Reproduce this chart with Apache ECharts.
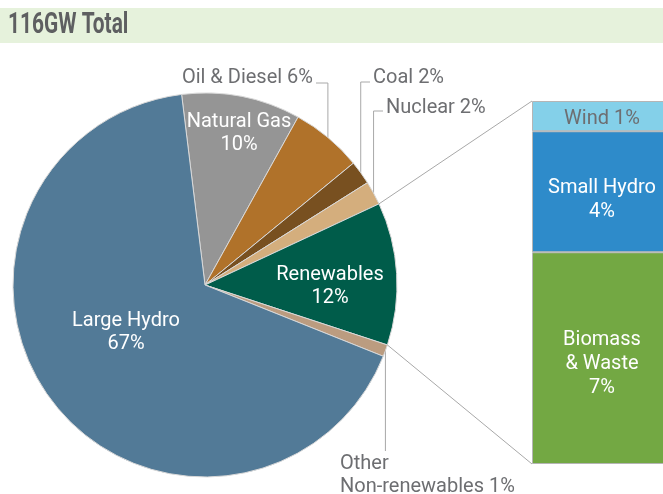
<!DOCTYPE html>
<html>
<head>
<meta charset="utf-8">
<title>116GW Total</title>
<script src="https://cdn.jsdelivr.net/npm/echarts@6.0.0/dist/echarts.min.js"></script>
<style>
html, body { margin: 0; padding: 0; background: #fff; }
#chart { width: 663px; height: 494px; }
</style>
</head>
<body>
<div id="chart"></div>
<script>
// pie slices, clockwise starting just left of 12 o'clock
var pieNames = ['Natural Gas', 'Oil & Diesel', 'Coal', 'Nuclear', 'Renewables', 'Other\nNon-renewables', 'Large Hydro'];
var pieValues = [10, 6, 2, 2, 12, 1, 67];
var pieColors = ['#959595', '#b0722a', '#785020', '#d4ae7d', '#005c4a', '#bb9c80', '#527a97'];
var insideNames = ['Natural Gas', 'Renewables', 'Large Hydro'];

// renewables breakdown, bottom to top of the bar
var renewNames = ['Biomass\n& Waste', 'Small Hydro', 'Wind'];
var renewValues = [7, 4, 1];
var renewColors = ['#73a843', '#2e8bca', '#84d0e9'];
var renewLabelColors = ['#fff', '#fff', '#6d6e71'];
var renewLabelShift = [6, 8, 3];
var renewMax = 12;

var textFont = 'Roboto';
var grayText = '#6d6e71';
var lineGray = '#a8a8a8';

// where each pie label sits (lineY = height of the elbow of its guide line)
var labelPos = {
    'Natural Gas': {x: 239, y: 133},
    'Renewables': {x: 330, y: 286},
    'Large Hydro': {x: 126, y: 332},
    'Oil & Diesel': {x: 313, y: 78, align: 'right', lineY: 83},
    'Coal': {x: 373, y: 78, align: 'left', lineY: 82},
    'Nuclear': {x: 386, y: 108, align: 'left', lineY: 111},
    'Other\nNon-renewables': {x: 340, y: 475, align: 'left', lineY: 451, noTail: true}
};

var myChart = echarts.init(document.getElementById('chart'));

function sliceLayout(i) {
    return myChart.getModel().getSeriesByIndex(0).getData().getItemLayout(i);
}

var pieData = pieNames.map(function (n, i) {
    var inside = insideNames.indexOf(n) >= 0;
    return {
        name: n,
        value: pieValues[i],
        itemStyle: {color: pieColors[i]},
        label: {position: inside ? 'inside' : 'outside', color: inside ? '#fff' : grayText},
        labelLine: {show: !inside}
    };
});

var barSeries = renewNames.map(function (n, i) {
    return {
        name: n,
        type: 'bar',
        stack: 'ren',
        barWidth: '100%',
        data: [renewValues[i]],
        itemStyle: {color: renewColors[i], borderColor: '#b5b5b5', borderWidth: 1},
        label: {
            show: true,
            position: 'inside',
            offset: [0, renewLabelShift[i]],
            color: renewLabelColors[i],
            fontFamily: textFont,
            fontSize: 20,
            lineHeight: 24,
            textBorderWidth: 0,
            formatter: n === 'Wind' ? '{a} {c}%' : '{a}\n{c}%'
        },
        emphasis: {disabled: true},
        silent: true
    };
});

var option = {
    animation: false,
    graphic: [
        {id: 'band', type: 'rect', shape: {x: 0, y: 8, width: 663, height: 35}, style: {fill: '#e6f2dc'}, silent: true},
        {id: 'ttl', type: 'text', x: 8, y: 26, scaleX: 0.72, style: {text: '116GW Total', font: 'bold 29px Roboto', fill: '#5e5f61', textAlign: 'left', textVerticalAlign: 'middle'}, silent: true}
    ],
    grid: {left: 532, width: 140, top: 101, bottom: 30, outerBoundsMode: 'none'},
    xAxis: {type: 'category', data: ['Renewables'], show: false},
    yAxis: {type: 'value', min: 0, max: renewMax, show: false},
    series: [{
        type: 'pie',
        center: [205, 285],
        radius: 192,
        startAngle: 97,
        clockwise: true,
        avoidLabelOverlap: false,
        silent: true,
        emphasis: {disabled: true},
        itemStyle: {borderColor: '#d8d8d8', borderWidth: 1},
        label: {
            fontFamily: textFont,
            fontSize: 20,
            lineHeight: 23,
            textBorderWidth: 0,
            formatter: function (p) {
                var inside = insideNames.indexOf(p.name) >= 0;
                return p.name + (inside ? '\n' : ' ') + p.value + '%';
            }
        },
        labelLine: {lineStyle: {color: lineGray, width: 1}},
        labelLayout: function (p) {
            var name = pieNames[p.dataIndex];
            var pos = labelPos[name];
            var res = {x: pos.x, y: pos.y, align: pos.align || 'center', verticalAlign: 'middle'};
            if (pos.lineY != null) {
                var lay = sliceLayout(p.dataIndex);
                var mid = (lay.startAngle + lay.endAngle) / 2;
                var p0 = [lay.cx + lay.r * Math.cos(mid), lay.cy + lay.r * Math.sin(mid)];
                var pts = [p0, [p0[0], pos.lineY]];
                if (!pos.noTail) {
                    pts.push([pos.align === 'right' ? pos.x + 3 : pos.x - 3, pos.lineY]);
                }
                res.labelLinePoints = pts;
            }
            return res;
        },
        data: pieData
    }].concat(barSeries)
};

myChart.setOption(option);

// lines from the renewables slice to the breakdown bar
var ri = pieNames.indexOf('Renewables');
var rl = sliceLayout(ri);
var gridRect = myChart.getModel().getComponent('grid', 0).coordinateSystem.getRect();
var barTop = myChart.convertToPixel({yAxisIndex: 0}, renewMax);
var barBottom = myChart.convertToPixel({yAxisIndex: 0}, 0);
myChart.setOption({
    graphic: [
        {id: 'linkTop', type: 'line', silent: true, z: 10,
         shape: {x1: rl.cx + rl.r * Math.cos(rl.startAngle), y1: rl.cy + rl.r * Math.sin(rl.startAngle), x2: gridRect.x, y2: barTop},
         style: {stroke: lineGray, lineWidth: 1}},
        {id: 'linkBottom', type: 'line', silent: true, z: 10,
         shape: {x1: rl.cx + rl.r * Math.cos(rl.endAngle), y1: rl.cy + rl.r * Math.sin(rl.endAngle), x2: gridRect.x, y2: barBottom},
         style: {stroke: lineGray, lineWidth: 1}}
    ]
});
</script>
</body>
</html>
